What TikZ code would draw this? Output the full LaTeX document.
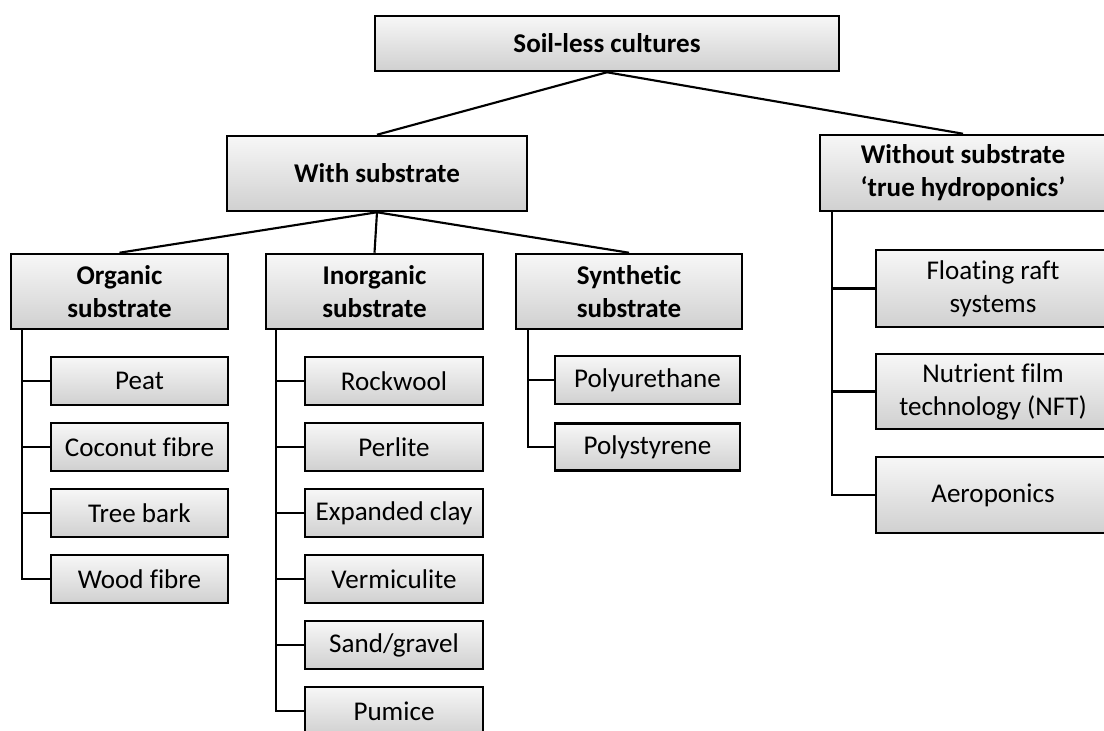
\documentclass[tikz,border=0pt]{standalone}
\usepackage{fontspec}
\setmainfont{Carlito}[Ligatures={TeX,NoCommon}]
\usepackage{tikz}
\usetikzlibrary{positioning,calc}
\definecolor{boxtop}{RGB}{247,247,247}
\definecolor{boxbot}{RGB}{208,208,208}
\tikzset{
  cat/.style={draw=black, line width=1.9pt, top color=boxtop, bottom color=boxbot,
    align=center, inner sep=1pt, font=\fontsize{20.3}{24.8}\selectfont\bfseries,
    minimum width=#1},
  leaf/.style={cat=#1, font=\fontsize{20.3}{24.8}\selectfont},
  link/.style={line width=1.6pt, black},
}

\begin{document}
\begin{tikzpicture}[x=0.75pt, y=-0.75pt]
  \useasboundingbox (0,0) rectangle (1104,731);
  % top levels
  \node[cat=348pt, minimum height=41.25pt] (soil) at (607,43.5) {Soil-less cultures};
  \node[cat=225pt, minimum height=56.25pt] (with) at (377,173.5) {With substrate};
  \node[cat=214.5pt, minimum height=57pt] (without) at (963,173) {Without substrate\\‘true hydroponics’};
  \node[cat=162.75pt, minimum height=56.25pt] (org) at (119.5,291.5) {Organic\\substrate};
  \node[cat=162.75pt, minimum height=56.25pt] (inorg) at (374.5,291.5) {Inorganic\\substrate};
  \node[cat=169.5pt, minimum height=56.25pt] (synth) at (629,291.5) {Synthetic\\substrate};
  % organic
  \node[leaf=132.75pt, minimum height=36pt] (peat) at (139.5,381) {Peat};
  \node[leaf=132.75pt, minimum height=36pt] (coco) at (139.5,447) {Coconut fibre};
  \node[leaf=132.75pt, minimum height=36pt] (bark) at (139.5,513) {Tree bark};
  \node[leaf=132.75pt, minimum height=36pt] (wood) at (139.5,579) {Wood fibre};
  % inorganic
  \node[leaf=133.5pt, minimum height=36pt] (rock) at (394,381) {Rockwool};
  \node[leaf=133.5pt, minimum height=36pt] (perl) at (394,447) {Perlite};
  \node[leaf=133.5pt, minimum height=36pt] (clay) at (394,513) {Expanded clay};
  \node[leaf=133.5pt, minimum height=36pt] (verm) at (394,579) {Vermiculite};
  \node[leaf=133.5pt, minimum height=36pt] (sand) at (394,645) {Sand/gravel};
  \node[leaf=133.5pt, minimum height=36pt] (pum) at (394,711) {Pumice};
  % synthetic
  \node[leaf=138.75pt, minimum height=36pt] (pur) at (647.5,380) {Polyurethane};
  \node[leaf=138.75pt, minimum height=35.25pt] (pst) at (647.5,447) {Polystyrene};
  % hydroponics
  \node[leaf=175.5pt, minimum height=57.75pt] (raft) at (993,288.5) {Floating raft\\systems};
  \node[leaf=175.5pt, minimum height=56.25pt] (nft) at (993,391.5) {Nutrient film\\technology (NFT)};
  \node[leaf=175.5pt, minimum height=57pt] (aero) at (993,495) {Aeroponics};

  \draw[link] (soil.south) -- (with.north);
  \draw[link] (soil.south) -- (without.north);
  \foreach \c in {org,inorg,synth}
    \draw[link] (with.south) -- (\c.north);
  \foreach \c in {peat,coco,bark,wood}
    \draw[link] ([xshift=9pt]org.south west) |- (\c.west);
  \foreach \c in {rock,perl,clay,verm,sand,pum}
    \draw[link] ([xshift=8.25pt]inorg.south west) |- (\c.west);
  \foreach \c in {pur,pst}
    \draw[link] ([xshift=9.75pt]synth.south west) |- (\c.west);
  \foreach \c in {raft,nft,aero}
    \draw[link] ([xshift=9.75pt]without.south west) |- (\c.west);
\end{tikzpicture}
\end{document}
